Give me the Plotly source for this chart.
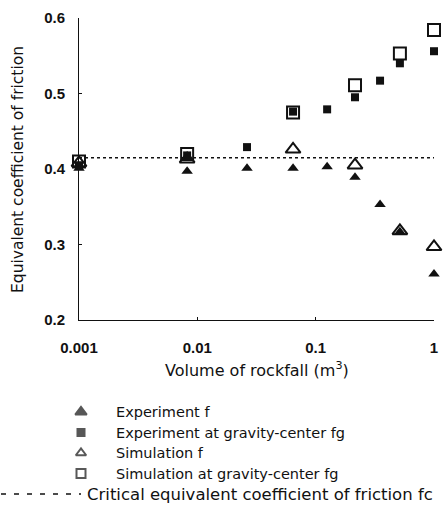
import plotly.graph_objects as go

# ---------------- data ----------------
vol_exp = [0.001, 0.0082, 0.0263, 0.0644, 0.125, 0.215, 0.35, 0.515, 1.0]
f_exp = [0.401, 0.397, 0.401, 0.401, 0.403, 0.389, 0.353, 0.317, 0.261]
fg_exp = [0.405, 0.418, 0.429, 0.476, 0.479, 0.495, 0.517, 0.540, 0.556]

vol_sim = [0.001, 0.0082, 0.0644, 0.215, 0.515, 1.0]
f_sim = [0.408, 0.413, 0.426, 0.405, 0.318, 0.297]
fg_sim = [0.410, 0.420, 0.475, 0.511, 0.553, 0.584]

fc_value = 0.415
fc_vol = [0.001, 1.0]

x_tickvals = [0.001, 0.01, 0.1, 1]
x_ticktext = ["0.001", "0.01", "0.1", "1"]
y_tickvals = [0.2, 0.3, 0.4, 0.5, 0.6]
y_ticktext = ["0.2", "0.3", "0.4", "0.5", "0.6"]

legend_labels = [
    "Experiment f",
    "Experiment at gravity-center fg",
    "Simulation f",
    "Simulation at gravity-center fg",
    "Critical equivalent coefficient of friction fc",
]

# ---------------- layout constants (window pixels) ----------------
W, H = 445, 510
PLOT_L, PLOT_R, PLOT_T, AXIS_BOTTOM = 79, 434, 18, 320
ML, MR, MT, MB = PLOT_L, W - PLOT_R, PLOT_T, 0
PW = W - ML - MR
PH = H - MT - MB


def px_x(p):
    return (p - ML) / PW


def px_y(p):
    return (H - MB - p) / PH


ydom_lo = px_y(AXIS_BOTTOM)

LEG_ROW0 = 412
LEG_STEP = 20.5
LEG_SYM_X = 81
LEG_TXT_X = 114
LEG_LINE_TXT_X = 85
leg_dom_hi = 0.3
leg_top_win = H - MB - leg_dom_hi * PH
leg_bot_win = H - MB
leg_range = [(leg_bot_win - LEG_ROW0) / LEG_STEP, (leg_top_win - LEG_ROW0) / LEG_STEP]

TXT_FONT = "DejaVu Sans"
NUM_FONT = "Liberation Sans"
INK = "#111111"

fig = go.Figure()

# main data
fig.add_trace(go.Scatter(x=fc_vol, y=[fc_value, fc_value], mode="lines",
                         line=dict(color=INK, width=1.6, dash="3px,3px"),
                         name=legend_labels[4], showlegend=False))
fig.add_trace(go.Scatter(x=vol_exp, y=f_exp, mode="markers", name=legend_labels[0],
                         marker=dict(symbol="triangle-up", size=10, color=INK),
                         cliponaxis=False, showlegend=False))
fig.add_trace(go.Scatter(x=vol_exp, y=fg_exp, mode="markers", name=legend_labels[1],
                         marker=dict(symbol="square", size=8, color=INK),
                         cliponaxis=False, showlegend=False))
fig.add_trace(go.Scatter(x=vol_sim, y=f_sim, mode="markers", name=legend_labels[2],
                         marker=dict(symbol="triangle-up-open", size=13, color=INK,
                                     line=dict(width=2, color=INK)),
                         cliponaxis=False, showlegend=False))
fig.add_trace(go.Scatter(x=vol_sim, y=fg_sim, mode="markers", name=legend_labels[3],
                         marker=dict(symbol="square-open", size=12, color=INK,
                                     line=dict(width=2, color=INK)),
                         cliponaxis=False, showlegend=False))

# legend symbols (on a hidden helper subplot below the chart)
leg_rows = [0, 1, 2, 3]
leg_symbols = ["triangle-up", "square", "triangle-up-open", "square-open"]
leg_sizes = [10, 7, 9, 9]
fig.add_trace(go.Scatter(x=[LEG_SYM_X] * 4, y=leg_rows, mode="markers",
                         xaxis="x2", yaxis="y2", showlegend=False, hoverinfo="skip",
                         marker=dict(symbol=leg_symbols, size=leg_sizes, color=INK,
                                     line=dict(width=2, color=INK)),
                         cliponaxis=False))

annotations = []
for i, lab in enumerate(legend_labels):
    annotations.append(dict(
        x=LEG_TXT_X if i < 4 else LEG_LINE_TXT_X, y=i, xref="x2", yref="y2",
        text=lab, showarrow=False, xanchor="left", yanchor="middle",
        font=dict(family=TXT_FONT, size=14.5 if i < 4 else 16.5, color=INK)))

# axis titles
annotations.append(dict(x=px_x((PLOT_L + PLOT_R) / 2), y=px_y(369), xref="paper", yref="paper",
                        text="Volume of rockfall (m<sup>3</sup>)", showarrow=False,
                        xanchor="center", yanchor="middle",
                        font=dict(family=TXT_FONT, size=16, color=INK)))
annotations.append(dict(x=px_x(18), y=px_y(170), xref="paper", yref="paper",
                        text="Equivalent coefficient of friction", showarrow=False,
                        textangle=-90, xanchor="center", yanchor="middle",
                        font=dict(family=TXT_FONT, size=15.5, color=INK)))

leg_line_y = px_y(LEG_ROW0 + 4 * LEG_STEP)
shapes = [dict(type="line", xref="paper", yref="paper",
               x0=px_x(1), x1=px_x(LEG_SYM_X),
               y0=leg_line_y, y1=leg_line_y,
               line=dict(color=INK, width=1.4, dash="5px,8px"))]

fig.update_layout(
    width=W, height=H,
    margin=dict(l=ML, r=MR, t=MT, b=MB, autoexpand=False),
    paper_bgcolor="white", plot_bgcolor="white",
    showlegend=False,
    annotations=annotations,
    shapes=shapes,
    xaxis=dict(type="log", range=[-3, 0], domain=[0, 1], anchor="y",
               automargin=False,
               tickvals=x_tickvals, ticktext=x_ticktext,
               ticks="inside", ticklen=3, tickcolor=INK,
               showline=True, linecolor=INK, linewidth=1,
               showgrid=False, zeroline=False,
               ticklabelstandoff=14,
               tickfont=dict(family=NUM_FONT, size=15, color=INK, weight="bold")),
    yaxis=dict(range=[0.2, 0.6], domain=[ydom_lo, 1], anchor="x",
               automargin=False,
               tickvals=y_tickvals, ticktext=y_ticktext,
               ticks="inside", ticklen=3, tickcolor=INK,
               showline=True, linecolor=INK, linewidth=1,
               showgrid=False, zeroline=False,
               ticklabelstandoff=10,
               tickfont=dict(family=NUM_FONT, size=15, color=INK, weight="bold")),
    xaxis2=dict(domain=[0, 1], anchor="y2", range=[PLOT_L, PLOT_R], visible=False,
                automargin=False),
    yaxis2=dict(domain=[0, leg_dom_hi], anchor="x2", range=leg_range, visible=False,
                automargin=False),
)

fig.write_html("out.html",
               config={"displayModeBar": False},
               post_script="document.body.style.margin='0';"
                           "document.body.style.overflow='hidden';")
